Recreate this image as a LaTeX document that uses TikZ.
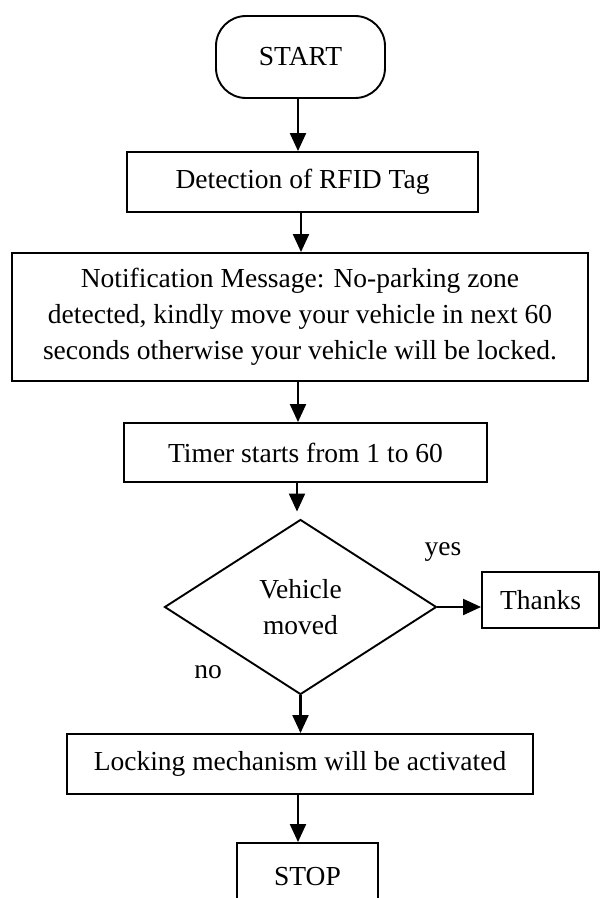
\documentclass[tikz,border=0pt]{standalone}
\usepackage{fontspec}
\setmainfont{Liberation Serif}
\usetikzlibrary{shapes.geometric,arrows.meta}
\begin{document}
\begin{tikzpicture}[x=1pt,y=-1pt,
  every node/.style={font=\fontsize{27.5}{36}\selectfont, inner sep=0pt},
  box/.style={draw, line width=1.9pt, align=center},
  arr/.style={line width=2.1pt, -{Triangle[width=16pt,length=18pt]}},
  lbl/.style={}]
\useasboundingbox (0,0) rectangle (601,898);
\fill[white] (0,0) rectangle (601,898);
\node[box, rounded corners=30pt, minimum width=169pt, minimum height=82pt] (start) at (300.5,57) {START};
\node[box, minimum width=351pt, minimum height=60pt] (det) at (302.5,182) {Detection of RFID Tag};
\node[box, minimum width=576pt, minimum height=128pt] (notif) at (300,317)
  {Notification Message: No-parking zone\\detected, kindly move your vehicle in next 60\\seconds otherwise your vehicle will be locked.};
\node[box, minimum width=363pt, minimum height=59pt] (timer) at (305.5,452.5) {Timer starts from 1 to 60};
\node[box, diamond, aspect=1.55, minimum width=272pt, minimum height=175pt] (dec) at (300.5,607)
  {Vehicle\\moved};
\node[box, minimum width=117pt, minimum height=56pt] (thanks) at (540.5,600) {Thanks};
\node[box, minimum width=466pt, minimum height=60pt] (lock) at (300,764) {Locking mechanism will be activated};
\node[box, minimum width=141pt, minimum height=68pt] (stop) at (307.5,877) {STOP};
\node[lbl] (yes) at (443,552) {yes};
\node[lbl] (no) at (208,672) {no};
\draw[arr] (298,98) coordinate (s1) -- (s1 |- det.north);
\draw[arr] (301,212) coordinate (s2) -- (s2 |- notif.north);
\draw[arr] (298,381) coordinate (s3) -- (s3 |- timer.north);
\draw[arr] ([xshift=-3.5pt]dec.north |- timer.south) -- ([xshift=-3.5pt,yshift=7pt]dec.north);
\draw[arr] (dec.east) -- (dec.east -| thanks.west);
\draw[arr] (dec.south) -- (dec.south |- lock.north);
\draw[arr] (298,794) coordinate (s4) -- (s4 |- stop.north);
\end{tikzpicture}
\end{document}
